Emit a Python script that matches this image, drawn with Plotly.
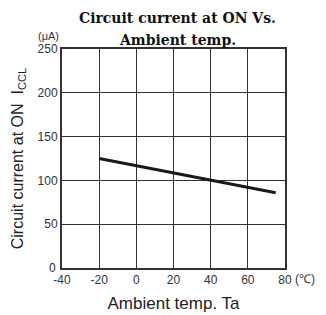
import plotly.graph_objects as go

temp = [-20, 75]
current = [125, 86]
x_ticks = [-40, -20, 0, 20, 40, 60, 80]
y_ticks = [50, 100, 150, 200, 250]
title_lines = ["Circuit current at ON Vs.", "Ambient temp."]

# page body has an 8px default margin; compensate so the plot lands where the reference has it
OFF = 8
W, H = 326, 315
px_left, px_right, px_top, px_bottom = 62, 285, 49, 268
l = px_left - OFF
t = px_top - OFF
r = W - (px_right - OFF)
b = H - (px_bottom - OFF)
pw, ph = px_right - px_left, px_bottom - px_top

fig = go.Figure()
fig.add_trace(go.Scatter(x=temp, y=current, mode="lines",
                         line=dict(color="#1a1a1a", width=3), showlegend=False))

title_font = dict(family="DejaVu Serif", size=14, color="#111")
ann = []
for txt, cy in zip(title_lines, [18, 40]):
    ann.append(dict(text="<b>%s</b>" % txt,
                    x=(177 - px_left) / pw, xref="paper", xanchor="center",
                    y=(px_bottom - cy) / ph, yref="paper", yanchor="middle",
                    showarrow=False, font=title_font))

ann += [
    dict(text="(μA)", x=0, xref="paper", xanchor="right", xshift=-1,
         y=1, yref="paper", yanchor="bottom", yshift=5, showarrow=False,
         font=dict(family="Liberation Sans", size=11, color="#333")),
    dict(text="0", x=0, xref="paper", xanchor="right", xshift=-4,
         y=0, yref="paper", yanchor="middle", yshift=0, showarrow=False,
         font=dict(family="Liberation Sans", size=12, color="#333")),
    dict(text="(℃)", x=1, xref="paper", xanchor="left", xshift=8,
         y=0, yref="paper", yanchor="top", yshift=-2, showarrow=False,
         font=dict(family="Liberation Sans", size=12, color="#333")),
]

fig.update_layout(
    width=W, height=H,
    margin=dict(l=l, r=r, t=t, b=b),
    paper_bgcolor="white", plot_bgcolor="white",
    xaxis=dict(range=[-40, 80], tickvals=x_ticks, ticktext=[str(v) for v in x_ticks],
               showgrid=True, gridcolor="#333", gridwidth=1,
               showline=True, linecolor="#333", linewidth=2, mirror=True,
               ticks="", zeroline=False, automargin=False,
               tickfont=dict(family="Liberation Sans", size=12, color="#333"),
               title=dict(text="Ambient temp. Ta", standoff=11,
                          font=dict(family="Liberation Sans", size=17, color="#222"))),
    yaxis=dict(range=[0, 250], tickvals=y_ticks, ticktext=[str(v) for v in y_ticks],
               showgrid=True, gridcolor="#333", gridwidth=1,
               showline=True, linecolor="#333", linewidth=2, mirror=True,
               ticks="", zeroline=False, automargin=False,
               tickfont=dict(family="Liberation Sans", size=12, color="#333"),
               title=dict(text="Circuit current at ON  I<sub>CCL</sub>", standoff=10,
                          font=dict(family="Liberation Sans", size=16, color="#222"))),
    annotations=ann,
)
fig.write_html("out.html")
